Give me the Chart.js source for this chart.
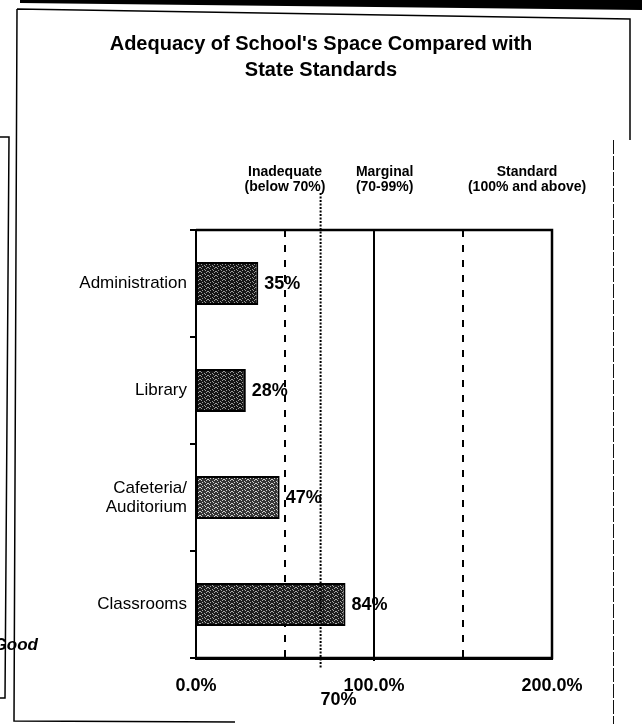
<!DOCTYPE html>
<html>
<head>
<meta charset="utf-8">
<script src="https://cdn.jsdelivr.net/npm/chart.js@4.4.0/dist/chart.umd.min.js"></script>
<style>
  html, body { margin: 0; padding: 0; background: #fff; }
  #wrap { width: 642px; height: 724px; position: relative; }
</style>
</head>
<body>
<div id="wrap"><canvas id="chart" width="642" height="724"></canvas></div>
<script>
// chart data
const categories = ['Administration', 'Library', ['Cafeteria/', 'Auditorium'], 'Classrooms'];
const spaceRatio = [35, 28, 47, 84];
const xTicks = [0, 100, 200];
const bandLabels = [['Inadequate', '(below 70%)'], ['Marginal', '(70-99%)'], ['Standard', '(100% and above)']];
const bandLabelAt = [50, 106, 186];
const cutoff = 70;
const solidLines = [100];
const dashedLines = [50, 150];

const FONT = "'Liberation Sans', Arial, sans-serif";
const canvas = document.querySelector('#chart');
const ctx = canvas.getContext('2d');

// speckled fill, a bit like the scanned hatching
function speckle(base, light) {
    const tile = document.createElement('canvas');
    tile.width = 8; tile.height = 4;
    const g = tile.getContext('2d');
    g.fillStyle = base;
    g.fillRect(0, 0, 8, 4);
    g.fillStyle = light;
    [[1, 0], [4, 1], [6, 0], [2, 2], [7, 3], [0, 3], [5, 2]].forEach(([x, y]) => g.fillRect(x, y, 1, 1));
    return ctx.createPattern(tile, 'repeat');
}
const barFills = [speckle('#161616', '#9a9a9a'), speckle('#161616', '#9a9a9a'),
                  speckle('#353535', '#d0d0d0'), speckle('#1e1e1e', '#a8a8a8')];

const refLines = {
    id: 'refLines',
    beforeDatasetsDraw(chart) {
        const { ctx, chartArea: a, scales: { x } } = chart;
        ctx.save();
        ctx.strokeStyle = '#000';
        ctx.lineWidth = 2;
        dashedLines.forEach(v => {
            ctx.setLineDash([7, 8]);
            ctx.beginPath();
            ctx.moveTo(x.getPixelForValue(v), a.top);
            ctx.lineTo(x.getPixelForValue(v), a.bottom);
            ctx.stroke();
        });
        ctx.setLineDash([]);
        solidLines.forEach(v => {
            ctx.beginPath();
            ctx.moveTo(x.getPixelForValue(v), a.top);
            ctx.lineTo(x.getPixelForValue(v), a.bottom + 3);
            ctx.stroke();
        });
        ctx.restore();
    },
    afterDatasetsDraw(chart) {
        const { ctx, chartArea: a, scales: { x } } = chart;
        ctx.save();
        // 70% cut-off
        const cx = x.getPixelForValue(cutoff);
        ctx.strokeStyle = '#000';
        ctx.lineWidth = 2;
        ctx.setLineDash([2, 1.5]);
        ctx.beginPath();
        ctx.moveTo(cx, a.top - 37);
        ctx.lineTo(cx, a.bottom + 10);
        ctx.stroke();
        ctx.setLineDash([]);
        ctx.fillStyle = '#000';
        ctx.font = 'bold 18px ' + FONT;
        ctx.textAlign = 'left';
        ctx.textBaseline = 'middle';
        ctx.fillText(cutoff + '%', cx, a.bottom + 42);

        // value labels
        const meta = chart.getDatasetMeta(0);
        meta.data.forEach((bar, i) => {
            ctx.fillText(spaceRatio[i] + '%', bar.x + 6, bar.y + 1);
        });

        // band headings
        ctx.font = 'bold 14px ' + FONT;
        ctx.textAlign = 'center';
        bandLabels.forEach((lines, i) => {
            const px = x.getPixelForValue(bandLabelAt[i]);
            lines.forEach((t, j) => ctx.fillText(t, px, a.top - 58 + j * 15));
        });

        // plot frame
        ctx.lineWidth = 2.5;
        ctx.beginPath();
        ctx.moveTo(a.left, a.top);
        ctx.lineTo(a.right, a.top);
        ctx.lineTo(a.right, a.bottom);
        ctx.lineTo(a.left, a.bottom);
        ctx.stroke();
        ctx.restore();
    }
};

// scan borders around the figure
const pageFrame = {
    id: 'pageFrame',
    afterDraw(chart) {
        const { ctx } = chart;
        ctx.save();
        ctx.fillStyle = '#000';
        ctx.beginPath();
        ctx.moveTo(20, 0); ctx.lineTo(642, 0); ctx.lineTo(642, 10); ctx.lineTo(20, 3);
        ctx.fill();
        ctx.strokeStyle = '#000';
        ctx.lineWidth = 1.5;
        ctx.beginPath();
        ctx.moveTo(17, 9); ctx.lineTo(630, 19); ctx.lineTo(630, 140);
        ctx.moveTo(17, 9); ctx.lineTo(14, 721); ctx.lineTo(235, 722);
        ctx.moveTo(0, 137); ctx.lineTo(9, 137); ctx.lineTo(5, 698); ctx.lineTo(0, 698);
        ctx.stroke();
        ctx.strokeStyle = '#111';
        ctx.lineWidth = 1;
        ctx.setLineDash([14, 2]);
        ctx.beginPath();
        ctx.moveTo(613.5, 140); ctx.lineTo(613.5, 724);
        ctx.stroke();
        ctx.setLineDash([]);
        ctx.fillStyle = '#000';
        ctx.font = 'italic bold 17px ' + FONT;
        ctx.textAlign = 'right';
        ctx.textBaseline = 'middle';
        ctx.fillText('Good', 38, 645);
        ctx.restore();
    }
};

new Chart(ctx, {
    type: 'bar',
    data: {
        labels: categories,
        datasets: [
            {
                label: 'Space vs state standard',
                data: spaceRatio,
                backgroundColor: barFills,
                borderColor: '#000',
                borderWidth: 2,
                borderSkipped: false,
                barPercentage: 0.4,
                categoryPercentage: 1
            }
        ]
    },
    options: {
        indexAxis: 'y',
        responsive: false,
        animation: false,
        layout: { padding: 0 },
        plugins: {
            legend: { display: false },
            tooltip: { enabled: false },
            title: {
                display: true,
                text: ["Adequacy of School's Space Compared with", 'State Standards'],
                color: '#000',
                font: { family: FONT, size: 20, weight: 'bold', lineHeight: 1.3 },
                padding: { top: 31, bottom: 147 }
            }
        },
        scales: {
            x: {
                min: 0,
                max: 200,
                afterBuildTicks: s => { s.ticks = xTicks.map(v => ({ value: v })); },
                afterFit: s => { s.height = 66; },
                grid: { display: false, drawTicks: false },
                border: { display: true, color: '#000', width: 3 },
                ticks: {
                    color: '#000',
                    padding: 17,
                    maxRotation: 0,
                    font: { family: FONT, size: 18, weight: 'bold' },
                    callback: v => v.toFixed(1) + '%'
                }
            },
            y: {
                afterFit: s => { s.width = 196; },
                grid: { offset: true, drawOnChartArea: false, tickLength: 6, color: '#000', lineWidth: 2 },
                border: { display: true, color: '#000', width: 2 },
                ticks: {
                    color: '#000',
                    padding: 3,
                    font: { family: FONT, size: 17, lineHeight: 1.1 }
                }
            },
            // empty right-hand margin so the title stays centred on the page
            yRight: {
                position: 'right',
                afterFit: s => { s.width = 90; },
                grid: { display: false, drawTicks: false },
                border: { display: false },
                ticks: { display: false }
            }
        }
    },
    plugins: [refLines, pageFrame]
});
</script>
</body>
</html>
